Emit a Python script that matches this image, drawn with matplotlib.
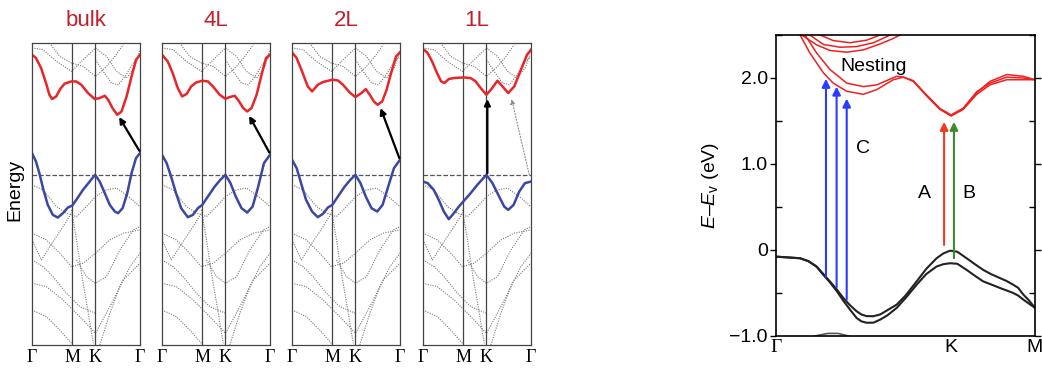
import numpy as np
import matplotlib.pyplot as plt
from matplotlib.ticker import MultipleLocator

plt.rcParams['font.family'] = ['Liberation Sans', 'DejaVu Sans']
plt.rcParams['mathtext.fontset'] = 'custom'
plt.rcParams['mathtext.rm'] = 'Liberation Sans'
plt.rcParams['mathtext.it'] = 'Liberation Sans:italic'

# ---- left panels: k along G-M-K-G scaled to 0..1, energy in arb. units (0 = dashed line)
k_M, k_K = 0.373, 0.584
layers = ['bulk', '4L', '2L', '1L']

cb_k_bulk = [0, .037, .084, .13, .161, .186, .224, .261, .301, .363, .41, .456, .519, .581, .627, .674, .705, .745, .789, .829, .876, .922, .963, 1.0]
cb_e_bulk = [1.20, 1.167, 1.067, .917, .80, .757, .783, .857, .91, .933, .933, .90, .817, .757, .767, .79, .75, .667, .60, .633, .783, .983, 1.15, 1.20]
vb_k_bulk = [0, .037, .068, .106, .146, .193, .239, .286, .332, .373, .41, .472, .534, .584, .627, .674, .72, .767, .798, .839, .882, .922, .963, 1.0]
vb_e_bulk = [.217, .133, .017, -.15, -.30, -.40, -.427, -.383, -.327, -.307, -.25, -.15, -.067, 0, -.067, -.183, -.30, -.367, -.383, -.333, -.183, .017, .167, .217]

cb_k_4l = [0, .053, .099, .146, .186, .23, .27, .317, .373, .425, .472, .534, .587, .627, .674, .714, .752, .789, .829, .876, .922, .963, 1.0]
cb_e_4l = [1.20, 1.133, 1.017, .867, .783, .81, .883, .923, .94, .933, .883, .80, .76, .777, .79, .733, .667, .633, .667, .80, 1.0, 1.167, 1.20]
vb_k_4l = [0, .043, .084, .13, .177, .239, .286, .332, .373, .425, .488, .54, .587, .634, .683, .736, .789, .839, .891, .944, 1.0]
vb_e_4l = [.20, .117, -.017, -.183, -.333, -.423, -.40, -.333, -.30, -.217, -.117, -.05, 0, -.083, -.217, -.333, -.377, -.317, -.117, .117, .20]

cb_k_2l = [0, .043, .093, .146, .186, .239, .286, .373, .425, .472, .534, .587, .643, .683, .72, .758, .792, .835, .876, .922, .963, 1.0]
cb_e_2l = [1.223, 1.167, 1.033, .883, .833, .90, .927, .95, .943, .90, .823, .777, .817, .857, .80, .733, .70, .733, .85, 1.033, 1.183, 1.223]
vb_k_2l = [0, .043, .084, .13, .186, .239, .286, .332, .373, .425, .488, .54, .587, .634, .683, .736, .789, .839, .891, .944, 1.0]
vb_e_2l = [.15, .067, -.083, -.25, -.367, -.423, -.39, -.327, -.30, -.217, -.117, -.05, 0, -.083, -.217, -.333, -.367, -.30, -.117, .067, .15]

cb_k_1l = [0, .043, .084, .13, .168, .199, .239, .286, .373, .441, .488, .534, .587, .634, .689, .736, .789, .845, .907, .963, 1.0]
cb_e_1l = [1.257, 1.217, 1.133, 1.017, .933, .917, .957, .967, .973, .967, .933, .867, .80, .857, .94, .883, .817, .883, 1.05, 1.20, 1.25]
vb_k_1l = [0, .043, .099, .146, .193, .239, .286, .332, .373, .441, .503, .587, .643, .705, .752, .789, .839, .891, .944, 1.0]
vb_e_1l = [-.067, -.083, -.15, -.25, -.367, -.443, -.383, -.317, -.267, -.183, -.10, 0, -.083, -.217, -.317, -.35, -.30, -.167, -.083, -.067]

# other (dotted) bands, shared by all panels
gray_k = [
    [0, .102, .226, .365, .474, .588, .690, .783, .876, .954, 1.0],
    [.164, .257, .365, .474, .588, .690, .768, .845],
    [.588, .659, .737, .799, .861, .938, 1.0],
    [0, .102, .226, .319, .412, .505, .588, .690, .783, .892, 1.0],
    [0, .133, .257, .365, .474, .588, .721, .845, 1.0],
    [0, .087, .164, .288, .365],
    [0, .133, .288, .443, .588, .721, .845, 1.0],
    [0, .133, .257, .365],
    [.365, .412, .458, .511, .567],
    [.628, .721, .814, .907, 1.0],
    [.412, .505, .588, .690, .814, .938, 1.0],
    [0, .102, .195, .319, .443, .588],
]
gray_e = [
    [1.267, 1.25, 1.133, 1.033, 1.15, 1.267, 1.183, 1.033, .967, 1.083, 1.25],
    [1.317, 1.183, 1.117, 1.083, .983, 1.083, 1.183, 1.3],
    [1.15, 1.033, .917, .9, .983, 1.117, 1.183],
    [-.1, -.15, -.317, -.383, -.417, -.317, -.217, -.15, -.133, -.217, -.317],
    [-.583, -.65, -.783, -.917, -.883, -.783, -.65, -.583, -.55],
    [-.65, -.85, -.717, -.517, -.383],
    [-1.083, -1.117, -1.25, -1.417, -1.583, -1.317, -1.05, -.883],
    [-1.35, -1.417, -1.55, -1.683],
    [-.35, -.65, -.983, -1.317, -1.683],
    [-1.7, -1.383, -1.117, -.917, -.783],
    [-.85, -1.017, -1.083, -1.017, -.75, -.55, -.517],
    [-.85, -.917, -1.017, -1.183, -1.317, -1.383],
]

# transition arrows (tail k, tail E, head k, head E)
arrows_left = [(.994, .24, .807, .577), (.994, .223, .807, .59), (.994, .167, .82, .667), (.596, .017, .596, .757)]
arrow_1l_dotted = (.984, 0.0, .82, .757)

# ---- right panel: k from G (0) via K (0.676) to M (1), energy in eV
k_pts = [0, .093, .125, .157, .18, .208, .235, .260, .285, .311, .33, .350, .376, .402, .43, .466, .50, .543, .58,
         .620, .646, .672, .70, .736, .768, .800, .83, .865, .89, .916, .935, .955, .975, 1.0]
vb_upper = [-.077, -.096, -.13, -.192, -.27, -.365, -.46, -.558, -.64, -.712, -.75, -.769, -.77, -.75, -.70, -.635,
            -.53, -.365, -.22, -.096, -.04, -.008, -.02, -.096, -.165, -.231, -.28, -.327, -.36, -.404, -.44, -.519, -.58, -.673]
vb_lower = [-.077, -.096, -.13, -.195, -.28, -.375, -.48, -.59, -.69, -.79, -.83, -.846, -.845, -.81, -.76, -.673,
            -.56, -.404, -.28, -.192, -.165, -.154, -.16, -.231, -.30, -.365, -.40, -.442, -.47, -.50, -.53, -.577, -.62, -.673]
deep_k = [.15, .2, .24, .28]
deep_e = [-1.0, -.97, -.97, -1.0]

c1_k = [.093, .131, .183, .221, .273, .337, .389, .453, .492, .530, .582, .633, .676, .723, .775, .826, .891, .955, 1.0]
c1_e = [2.5, 2.29, 2.06, 1.94, 1.846, 1.81, 1.865, 1.98, 2.01, 1.96, 1.79, 1.635, 1.558, 1.635, 1.81, 1.92, 1.98, 1.98, 1.98]
c2_k = [.112, .157, .208, .273, .337, .389, .466, .492, .530, .582, .633, .676, .723, .775, .826, .891, .955, 1.0]
c2_e = [2.5, 2.29, 2.10, 1.94, 1.90, 1.92, 2.02, 2.01, 1.97, 1.80, 1.64, 1.565, 1.64, 1.83, 1.96, 2.04, 2.02, 1.98]
c3_k = [.582, .633, .676, .723, .775, .826, .891, .955, 1.0]
c3_e = [1.80, 1.645, 1.57, 1.65, 1.84, 1.94, 2.01, 2.0, 1.98]
ua_k = [.099, .157, .208, .273, .337, .402, .453, .479]
ua_e = [2.5, 2.385, 2.32, 2.30, 2.327, 2.396, 2.46, 2.5]
ub_k = [.131, .183, .247, .311, .376, .427, .440]
ub_e = [2.5, 2.39, 2.358, 2.365, 2.41, 2.48, 2.5]
uc_k = [.170, .221, .286, .350, .402]
uc_e = [2.5, 2.435, 2.41, 2.44, 2.5]

# (k, tail E, head E, colour)
arrows_right = [(.193, -.31, 1.99, '#2b3bff'), (.234, -.435, 1.90, '#2b3bff'), (.273, -.577, 1.76, '#2b3bff'),
                (.649, .058, 1.49, '#f03a1e'), (.687, -.096, 1.49, '#3d8a2a')]

fig = plt.figure(figsize=(10.42, 3.72), dpi=100)

cbs = [(cb_k_bulk, cb_e_bulk), (cb_k_4l, cb_e_4l), (cb_k_2l, cb_e_2l), (cb_k_1l, cb_e_1l)]
vbs = [(vb_k_bulk, vb_e_bulk), (vb_k_4l, vb_e_4l), (vb_k_2l, vb_e_2l), (vb_k_1l, vb_e_1l)]
lefts = [32, 162, 292, 423]
for i, name in enumerate(layers):
    ax = fig.add_axes([lefts[i] / 1042, 27 / 372, 108 / 1042, 302 / 372])
    for kk, ee in zip(gray_k, gray_e):
        ax.plot(kk, ee, color='#777777', ls=(0, (1, 1.2)), lw=0.8)
    ax.axhline(0, color='#555555', ls='--', lw=0.9)
    for kx in [k_M, k_K]:
        ax.axvline(kx, color='#444444', lw=0.9)
    ax.plot(*cbs[i], color='#e8262a', lw=1.8, solid_joinstyle='round')
    ax.plot(*vbs[i], color='#3b48a3', lw=1.8, solid_joinstyle='round')
    x0, y0, x1, y1 = arrows_left[i]
    ax.annotate('', xy=(x1, y1), xytext=(x0, y0),
                arrowprops=dict(arrowstyle='-|>', color='black', lw=1.6, mutation_scale=9, shrinkA=0, shrinkB=0))
    if name == '1L':
        x0, y0, x1, y1 = arrow_1l_dotted
        ax.annotate('', xy=(x1, y1), xytext=(x0, y0),
                    arrowprops=dict(arrowstyle='-|>', color='#888888', lw=0.8, ls=':', mutation_scale=7,
                                    shrinkA=0, shrinkB=0))
    ax.set_xlim(0, 1)
    ax.set_ylim(-1.70, 1.317)
    ax.set_xticks([0, k_M, k_K, 1])
    ax.set_xticklabels(['Γ', 'M', 'K', 'Γ'], fontfamily='Liberation Serif', fontsize=13)
    ax.set_yticks([])
    ax.tick_params(axis='x', length=0, pad=3)
    for s in ax.spines.values():
        s.set_color('#444444')
        s.set_linewidth(0.9)
    fig.text((lefts[i] + 54) / 1042, 1 - 20 / 372, name, color='#c41e2a', fontsize=16, ha='center', va='center')

fig.text(15 / 1042, 0.49, 'Energy', rotation=90, ha='center', va='center', fontsize=14)

# right panel
ax = fig.add_axes([776 / 1042, 36 / 372, 259 / 1042, 301 / 372])
for kk, ee in [(c1_k, c1_e), (c2_k, c2_e), (c3_k, c3_e), (ua_k, ua_e), (ub_k, ub_e), (uc_k, uc_e)]:
    ax.plot(kk, ee, color='#ee2020', lw=1.1)
ax.plot(k_pts, vb_upper, color='#222222', lw=1.5)
ax.plot(k_pts, vb_lower, color='#222222', lw=1.5)
ax.plot(deep_k, deep_e, color='#555555', lw=1.2)
for kx, e0, e1, c in arrows_right:
    ax.annotate('', xy=(kx, e1), xytext=(kx, e0),
                arrowprops=dict(arrowstyle='-|>', color=c, lw=1.5, mutation_scale=12, shrinkA=0, shrinkB=0))
ax.text(.376, 2.13, 'Nesting', fontsize=14, ha='center', va='center')
ax.text(.337, 1.18, 'C', fontsize=14, ha='center', va='center')
ax.text(.575, .654, 'A', fontsize=14, ha='center', va='center')
ax.text(.746, .654, 'B', fontsize=14, ha='center', va='center')
ax.set_xlim(0, 1)
ax.set_ylim(-1.0, 2.5)
ax.set_xticks([0, .676, 1])
ax.set_xticklabels(['Γ', 'K', 'M'], fontsize=14)
ax.get_xticklabels()[0].set_fontfamily('Liberation Serif')
ax.set_yticks([-1, 0, 1, 2])
ax.set_yticklabels(['\u22121.0', '0', '1.0', '2.0'], fontsize=14)
ax.yaxis.set_minor_locator(MultipleLocator(0.5))
ax.tick_params(axis='x', length=0, pad=2)
ax.tick_params(axis='y', which='major', direction='out', length=4, width=1, right=True, pad=2)
ax.tick_params(axis='y', which='minor', direction='in', length=4, width=1, right=True)
ax.set_ylabel('$E$\u2013$E_{\\rm v}$ (eV)', fontsize=14, labelpad=6)
for s in ax.spines.values():
    s.set_linewidth(1.2)

fig.savefig('out.png', dpi=100)
